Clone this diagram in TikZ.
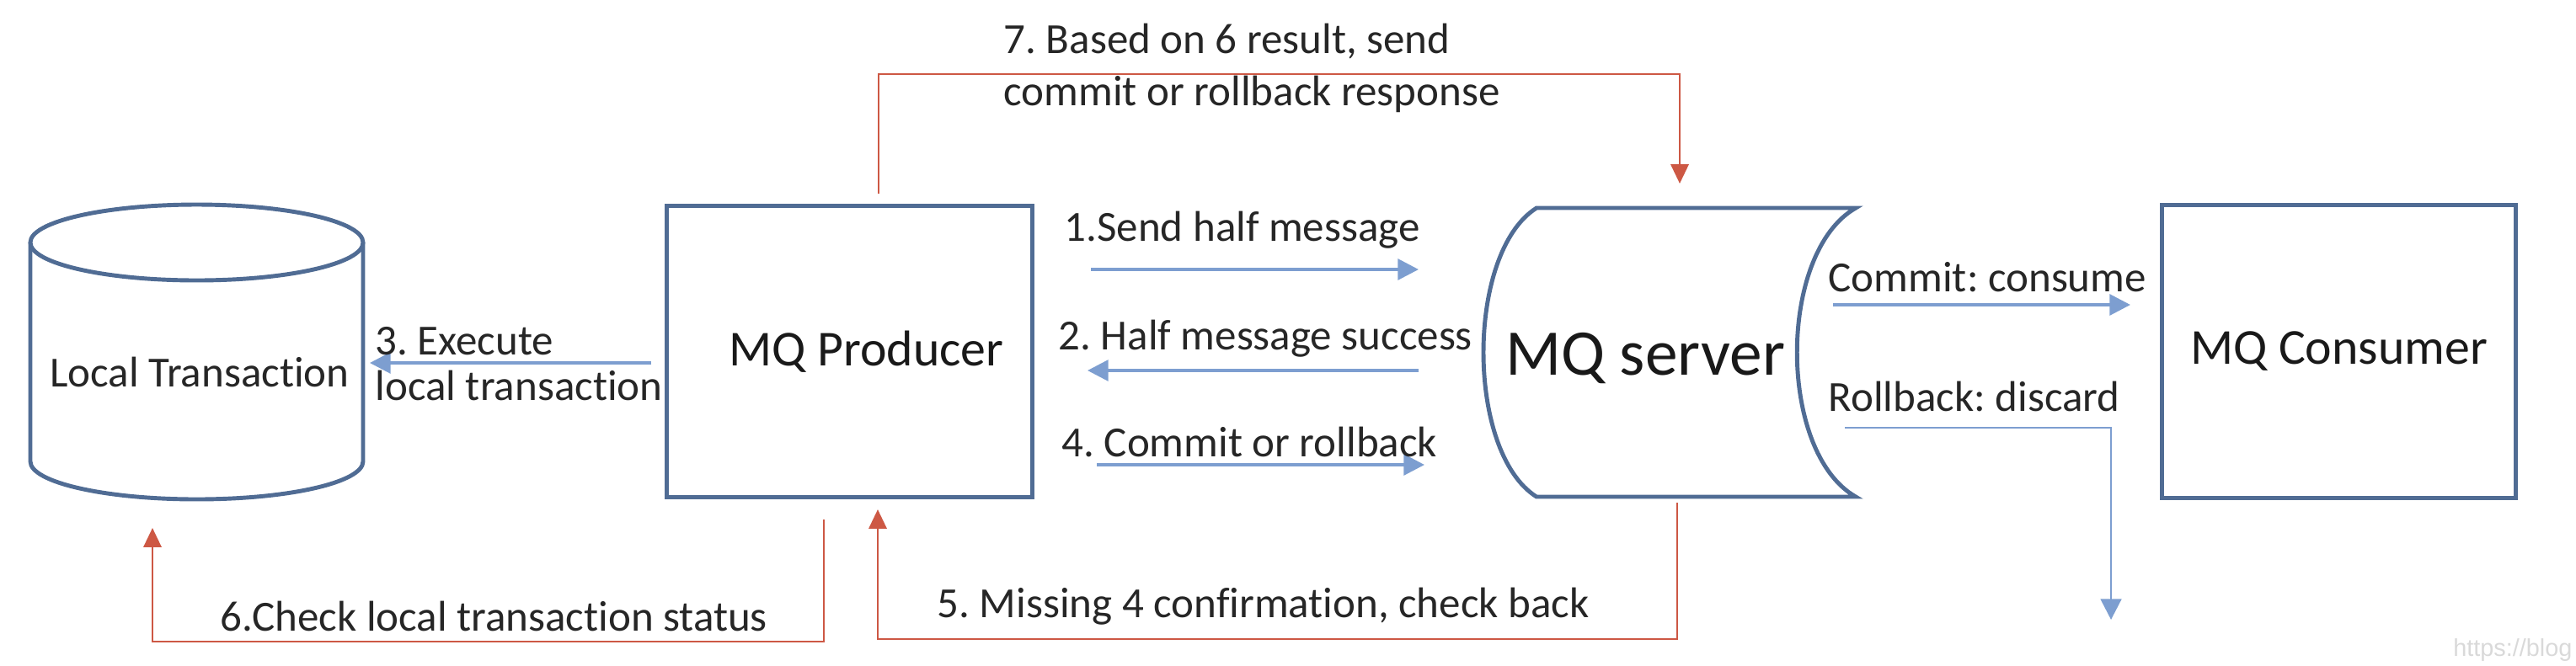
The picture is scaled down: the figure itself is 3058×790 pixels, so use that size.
\documentclass[tikz,border=0pt]{standalone}
\usepackage{fontspec}
\setmainfont{Carlito}[Ligatures=NoCommon]
\newfontfamily\markfont{Liberation Sans}
\usetikzlibrary{arrows.meta,calc}
\definecolor{boxblue}{RGB}{80,108,148}
\definecolor{flowblue}{RGB}{125,158,208}
\definecolor{checkred}{RGB}{205,88,68}
\frenchspacing

\begin{document}
\begin{tikzpicture}[x=0.01cm,y=-0.01cm,
    box/.style={draw=boxblue,line width=1.4pt,inner sep=0},
    flow/.style={flowblue,line width=1.1pt,-{Triangle[length=7pt,width=7pt]}},
    check/.style={checkred,line width=0.8pt,-{Triangle[length=6.5pt,width=6pt]}},
    lbl/.style={font=\fontsize{14.5}{17}\selectfont,text=black!85,inner sep=0,anchor=west},
    big/.style={font=\fontsize{17}{20}\selectfont,text=black!90}]
\clip (0,0) rectangle (3058,790);

\draw[boxblue,line width=1.4pt] (233.5,288) ellipse[x radius=197.5,y radius=45];
\draw[boxblue,line width=1.4pt] (36,288) -- (36,548) arc[start angle=180,end angle=0,x radius=197.5,y radius=45] -- (431,288);
\node[lbl,anchor=center] (local) at (237,442) {Local Transaction};

\node[box,minimum width=4.33cm,minimum height=3.45cm] (producer) at (1008.5,417.5) {};
\node[big] (producername) at ($(producer)+(20,0)$) {MQ Producer};

\draw[box] (1824,247) -- (2203,247) .. controls (2110,300) and (2110,537) .. (2203,590)
    -- (1824,590) .. controls (1740,537) and (1740,300) .. (1824,247) -- cycle;
\node[font=\fontsize{22}{26}\selectfont,text=black!90] (server) at (1953,425) {MQ server};

\node[box,big,minimum width=4.19cm,minimum height=3.47cm] (consumer) at (2776.5,417.5) {MQ Consumer};

\coordinate (send1) at (1295,320);  \coordinate (send2) at (1684,320);
\coordinate (ok1) at (1684,440);    \coordinate (ok2) at (1291,440);
\coordinate (cr1) at (1302,552);    \coordinate (cr2) at (1691,552);
\coordinate (ex1) at (773,431);     \coordinate (ex2) at (439,431);
\coordinate (con1) at (2176,362);   \coordinate (con2) at (2529,362);
\coordinate (dis1) at (2190,508);   \coordinate (dis2) at (2506,736);
\coordinate (resp1) at (1043,230);  \coordinate (resp2) at (1994,218);
\coordinate (back1) at (1991,597);  \coordinate (back2) at (1042,605);
\coordinate (chk1) at (978,617);    \coordinate (chk2) at (181,627);

\draw[flow] (send1) -- (send2);
\draw[flow] (ok1) -- (ok2);
\draw[flow] (cr1) -- (cr2);
\draw[flow] (ex1) -- (ex2);
\draw[flow] (con1) -- (con2);
\draw[flow,line width=0.8pt] (dis1) -| (dis2);
\draw[check] (resp1) -- (1043,88) -| (resp2);
\draw[check] (back1) -- (1991,759) -| (back2);
\draw[check] (chk1) -- (978,762) -| (chk2);

\node[lbl] (l1) at (1263,273) {1.Send half message};
\node[lbl] (l2) at (1256,402) {2. Half message success};
\node[lbl,align=left] (l3) at (445,432) {3. Execute\\[-1.5pt]local transaction};
\node[lbl] (l4) at (1260,525) {4. Commit or rollback};
\node[lbl] (l5) at (1112,720) {5. Missing 4 confirmation, check back};
\node[lbl] (l6) at (261,732) {6.Check local transaction status};
\node[lbl,align=left] (l7) at (1191,81) {7. Based on 6 result, send\\[0.5pt]commit or rollback response};
\node[lbl] (lcommit) at (2170,329) {Commit: consume};
\node[lbl] (lrollback) at (2170,471) {Rollback: discard};

\node[anchor=south east,inner sep=0,text=black!15,font=\markfont\fontsize{8.2}{10}\selectfont] (mark) at (3054,786) {https://blog};
\end{tikzpicture}
\end{document}
